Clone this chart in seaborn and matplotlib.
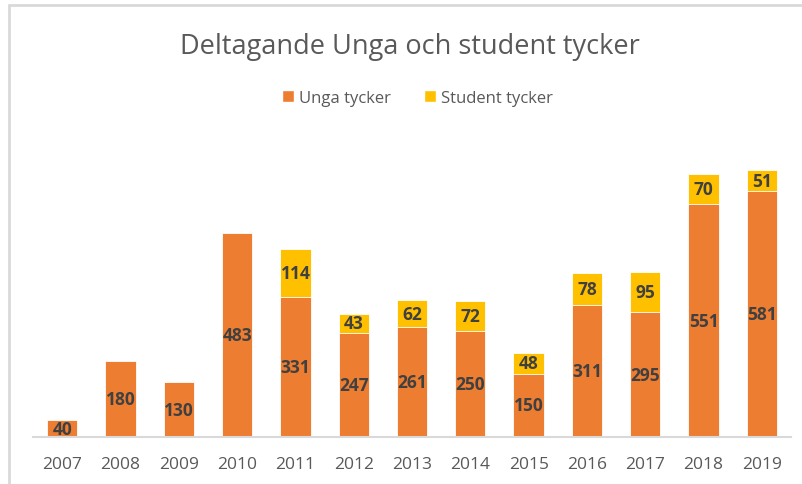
import matplotlib
matplotlib.use("Agg")
import matplotlib.pyplot as plt
import seaborn as sns
import pandas as pd
from matplotlib.patches import Patch

years = ["2007", "2008", "2009", "2010", "2011", "2012", "2013",
         "2014", "2015", "2016", "2017", "2018", "2019"]
unga = [40, 180, 130, 483, 331, 247, 261, 250, 150, 311, 295, 551, 581]
student = [0, 0, 0, 0, 114, 43, 62, 72, 48, 78, 95, 70, 51]

df = pd.DataFrame({"year": years, "unga": unga, "student": student})
df["total"] = df["unga"] + df["student"]

sns.set_style("white")
plt.rcParams["font.family"] = ["Open Sans", "DejaVu Sans"]

ORANGE = "#ED7D31"
YELLOW = "#FFC000"
GREY = "#595959"

fig = plt.figure(figsize=(8.03, 4.85), dpi=100)
ax = fig.add_axes([0.0411, 0.0969, 0.944, 0.6103])

sns.barplot(data=df, x="year", y="total", color=YELLOW, width=0.52,
            saturation=1, edgecolor="white", linewidth=0.6, ax=ax)
sns.barplot(data=df, x="year", y="unga", color=ORANGE, width=0.52,
            saturation=1, edgecolor="white", linewidth=0.6, ax=ax)

ax.set_xlim(-0.5, len(years) - 0.5)
ax.set_ylim(0, 700)
ax.set_xlabel("")
ax.set_ylabel("")
ax.set_yticks([])
for s in ["left", "right", "top"]:
    ax.spines[s].set_visible(False)
ax.spines["bottom"].set_color("#d9d9d9")
ax.spines["bottom"].set_linewidth(1.5)
ax.tick_params(axis="x", length=0, pad=14, labelsize=12.5, labelcolor=GREY)

# labels
n = len(years)
unga_bars = ax.patches[n:2 * n]
for i in range(n):
    ub = unga_bars[i]
    cx = ub.get_x() + ub.get_width() / 2
    ax.text(cx, unga[i] / 2, str(unga[i]), ha="center", va="center",
            fontsize=12.5, fontweight="bold", color="#404040")
    if student[i] > 0:
        ax.text(cx, unga[i] + student[i] / 2, str(student[i]), ha="center",
                va="center", fontsize=12.5, fontweight="bold", color="#404040")

fig.text(0.511, 0.903, "Deltagande Unga och student tycker", ha="center",
         va="center", fontsize=19.5, color=GREY)

handles = [Patch(facecolor=ORANGE, label="Unga tycker"),
           Patch(facecolor=YELLOW, label="Student tycker")]
leg = fig.legend(handles=handles, loc="center", bbox_to_anchor=(0.52, 0.796),
                 ncol=2, frameon=False, fontsize=12, handlelength=0.7,
                 handleheight=0.7, handletextpad=0.3, columnspacing=2.0)
for t in leg.get_texts():
    t.set_color(GREY)

# outer frame
fig.add_artist(plt.Line2D([0.0112, 0.0112], [0, 0.987], transform=fig.transFigure,
                          color="#d9d9d9", linewidth=2))
fig.add_artist(plt.Line2D([0.0112, 1.0], [0.987, 0.987], transform=fig.transFigure,
                          color="#d9d9d9", linewidth=2))

fig.savefig("out.png", dpi=100)
